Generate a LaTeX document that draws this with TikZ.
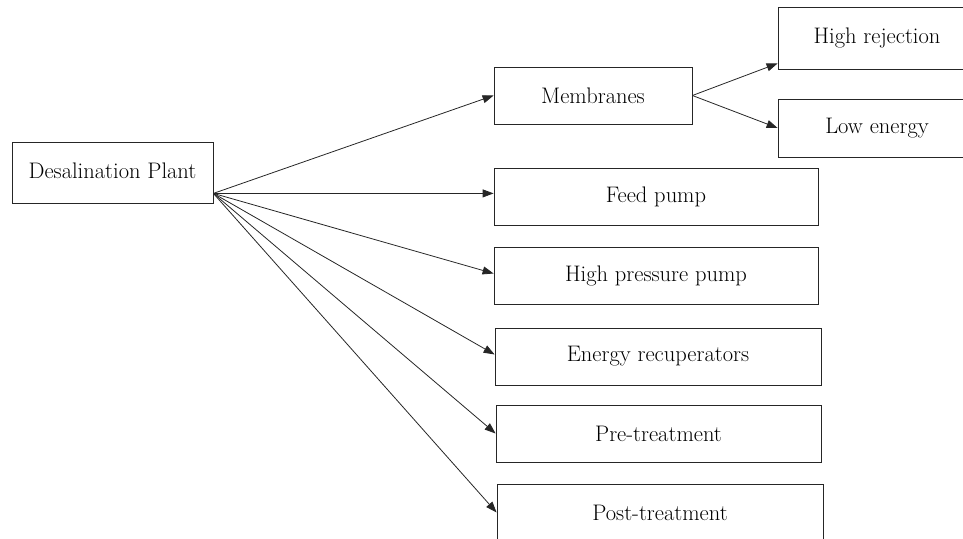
\documentclass[tikz,border=0pt]{standalone}
\usetikzlibrary{arrows.meta}
\begin{document}
\begin{tikzpicture}[x=1pt,y=-1pt,
  box/.style={draw=black!85,line width=0.8pt,fill=white,inner sep=0pt,
    font=\fontsize{22.5}{26}\selectfont,anchor=center},
  arr/.style={draw=black!85,line width=0.8pt,-{Triangle[length=11pt,width=8pt]}}]
\useasboundingbox (0,0) rectangle (963,538);
\clip (0,0) rectangle (963,538);
\node[box,minimum width=201pt,minimum height=61pt] (dp) at (112.5,172.5) {\raisebox{4pt}{Desalination Plant}};
\node[box,minimum width=198pt,minimum height=57pt] (mem) at (593,95.5) {Membranes};
\node[box,minimum width=198pt,minimum height=62pt] (hr) at (877,38) {High rejection};
\node[box,minimum width=198pt,minimum height=58pt] (le) at (877,128) {Low energy};
\node[box,minimum width=324pt,minimum height=57pt] (fp) at (656,196.5) {Feed pump};
\node[box,minimum width=324pt,minimum height=57pt] (hpp) at (656,275.5) {High pressure pump};
\node[box,minimum width=326pt,minimum height=57pt] (er) at (658,356.5) {Energy recuperators};
\node[box,minimum width=325pt,minimum height=57pt] (pt) at (658.5,433.5) {Pre-treatment};
\node[box,minimum width=326pt,minimum height=57pt] (post) at (660,512.5) {Post-treatment};
\coordinate (src) at ([yshift=10pt]dp.south east);
\draw[arr] (src) -- (mem.west);
\draw[arr] (src) -- (fp.west |- src);
\draw[arr] (src) -- ([yshift=2pt]hpp.west);
\draw[arr] (src) -- ([yshift=2pt]er.west);
\draw[arr] (src) -- (pt.west);
\draw[arr] (src) -- (post.west);
\draw[arr] (mem.east) -- ([yshift=6pt]hr.south west);
\draw[arr] (mem.east) -- (le.west);
\end{tikzpicture}
\end{document}
